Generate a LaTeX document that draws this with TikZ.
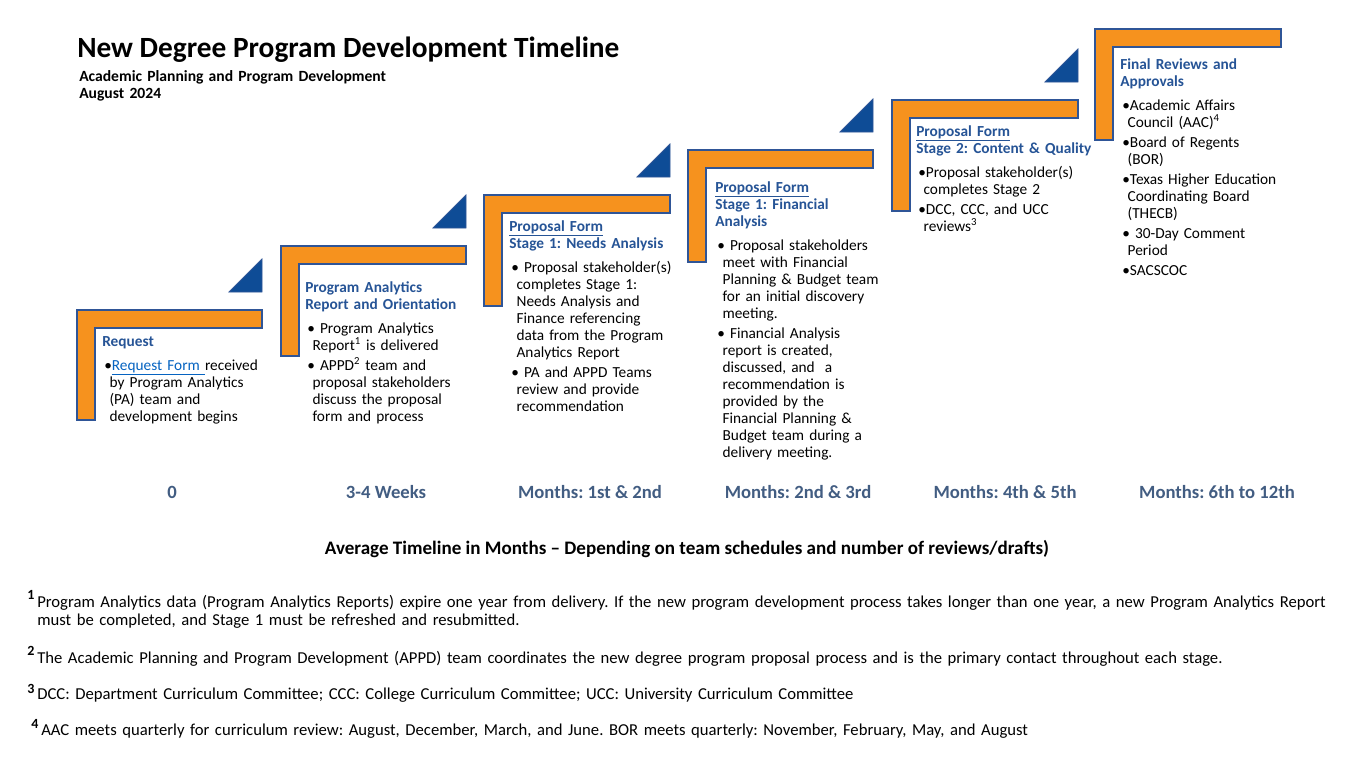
\documentclass[tikz,border=0pt]{standalone}
\usepackage{fontspec}
\setmainfont{Carlito}
\frenchspacing
\definecolor{stepfill}{RGB}{246,146,30}
\definecolor{stepline}{RGB}{47,85,151}
\definecolor{tripfill}{RGB}{14,76,150}
\definecolor{headblue}{RGB}{38,84,150}
\definecolor{timeblue}{RGB}{66,93,130}
\definecolor{linkblue}{RGB}{5,99,193}
\newcommand{\stephead}[1]{{\color{headblue}\bfseries #1\par}\vspace{3pt}}
\newcommand{\bitem}[1]{\par\vspace{2.25pt}\hangindent=5.5pt\hangafter=1{\let\\\newline\hspace*{1.5pt}\textbullet#1}\par}
\begin{document}
\begin{tikzpicture}[x=0.75pt,y=-0.75pt]
        \tikzset{
        stepbar/.style={fill=stepfill,draw=stepline,line width=1pt},
        steptri/.style={fill=tripfill,draw=stepline,line width=0.6pt},
        box text/.style={anchor=base west,inner sep=0,text width=160pt,align=left,font=\fontsize{11.5}{12.75}\selectfont},
        time label/.style={anchor=base,inner sep=0,text=timeblue,font=\fontsize{14}{16}\selectfont\bfseries},
        note num/.style={anchor=base west,inner sep=0,font=\fontsize{10.5}{12}\selectfont\bfseries},
        note text/.style={anchor=base west,inner sep=0,text width=1000pt,align=left,font=\fontsize{12.5}{13.5}\selectfont}
        }
        \useasboundingbox[fill=white] (0,0) rectangle (1366,768);

        % heading
        \node[anchor=base west,inner sep=0,font=\fontsize{22}{26}\selectfont\bfseries] (title) at (77,57) {New Degree Program Development Timeline};
        \node[anchor=base west,inner sep=0,text width=300pt,align=left,font=\fontsize{11.7}{12.75}\selectfont\bfseries] (subtitle) at (79,81) {Academic Planning and Program Development\\August 2024};

        % steps
        \filldraw[stepbar] (77,310) -- (262,310) -- (262,328) -- (95,328) -- (95,420) -- (77,420) -- cycle;
        \filldraw[stepbar] (281,246) -- (466,246) -- (466,264) -- (299,264) -- (299,356) -- (281,356) -- cycle;
        \filldraw[stepbar] (484,195) -- (670,195) -- (670,213) -- (502,213) -- (502,306) -- (484,306) -- cycle;
        \filldraw[stepbar] (688,150) -- (873,150) -- (873,168) -- (706,168) -- (706,262) -- (688,262) -- cycle;
        \filldraw[stepbar] (892,100) -- (1078,100) -- (1078,118) -- (910,118) -- (910,211) -- (892,211) -- cycle;
        \filldraw[stepbar] (1095,29) -- (1281,29) -- (1281,47) -- (1113,47) -- (1113,140) -- (1095,140) -- cycle;

        \filldraw[steptri] (229,292) -- (262,292) -- (262,259) -- cycle;
        \filldraw[steptri] (433,228) -- (466,228) -- (466,195) -- cycle;
        \filldraw[steptri] (637,177) -- (670,177) -- (670,144) -- cycle;
        \filldraw[steptri] (840,132) -- (873,132) -- (873,99) -- cycle;
        \filldraw[steptri] (1045,82) -- (1078,82) -- (1078,49) -- cycle;

        % step texts
        \node[box text] (request) at (102,346) {\stephead{Request}
          \bitem{{\color{linkblue}\underline{Request Form\ }}received\\by Program Analytics\\(PA) team and\\development begins}};
        \node[box text] (orient) at (305,292) {\stephead{Program Analytics\\Report and Orientation}
          \bitem{\ Program Analytics\\Report\textsuperscript{1} is delivered}
          \bitem{\ APPD\textsuperscript{2} team and\\proposal stakeholders\\discuss the proposal\\form and process}};
        \node[box text] (needs) at (509,231) {\stephead{\underline{Proposal Form}\\Stage 1: Needs Analysis}
          \bitem{\ Proposal stakeholder(s)\\completes Stage 1:\\Needs Analysis and\\Finance referencing\\data from the Program\\Analytics Report}
          \bitem{\ PA and APPD Teams\\review and provide\\recommendation}};
        \node[box text] (finance) at (715,192) {\stephead{\underline{Proposal Form}\\Stage 1: Financial\\Analysis}
          \bitem{\ Proposal stakeholders\\meet with Financial\\Planning \& Budget team\\for an initial discovery\\meeting.}
          \bitem{\ Financial Analysis\\report is created,\\discussed, and\ \ a\\recommendation is\\provided by the\\Financial Planning \&\\Budget team during a\\delivery meeting.}};
        \node[box text] (quality) at (916,136) {\stephead{\underline{Proposal Form}\\Stage 2: Content \& Quality}
          \bitem{Proposal stakeholder(s)\\completes Stage 2}
          \bitem{DCC, CCC, and UCC\\reviews\textsuperscript{3}}};
        \node[box text] (approve) at (1120,69) {\stephead{Final Reviews and\\Approvals}
          \bitem{Academic Affairs\\Council (AAC)\textsuperscript{4}}
          \bitem{Board of Regents\\(BOR)}
          \bitem{Texas Higher Education\\Coordinating Board\\(THECB)}
          \bitem{\ 30-Day Comment\\Period}
          \bitem{SACSCOC}};

        % time line
        \node[time label] (t0) at (172,498) {0};
        \node[time label] (t1) at (386,498) {3-4 Weeks};
        \node[time label] (t2) at (590,498) {Months: 1st \& 2nd};
        \node[time label] (t3) at (798,498) {Months: 2nd \& 3rd};
        \node[time label] (t4) at (1005,498) {Months: 4th \& 5th};
        \node[time label] (t5) at (1217,498) {Months: 6th to 12th};
        \node[anchor=base,inner sep=0,font=\fontsize{14.3}{16}\selectfont\bfseries] (avg) at (687,554) {Average Timeline in Months -- Depending on team schedules and number of reviews/drafts)};

        % footnotes
        \node[note num] (n1) at (27,599) {1};
        \node[note text] (f1) at (37,607) {Program Analytics data (Program Analytics Reports) expire one year from delivery. If the new program development process takes longer than one year, a new Program Analytics Report\\must be completed, and Stage 1 must be refreshed and resubmitted.};
        \node[note num] (n2) at (27,655) {2};
        \node[note text] (f2) at (37,663) {The Academic Planning and Program Development (APPD) team coordinates the new degree program proposal process and is the primary contact throughout each stage.};
        \node[note num] (n3) at (27,693) {3};
        \node[note text] (f3) at (37,699) {DCC: Department Curriculum Committee; CCC: College Curriculum Committee; UCC: University Curriculum Committee};
        \node[note num] (n4) at (31,728) {4};
        \node[note text] (f4) at (41,735) {AAC meets quarterly for curriculum review: August, December, March, and June. BOR meets quarterly: November, February, May, and August};
    \end{tikzpicture}
\end{document}
